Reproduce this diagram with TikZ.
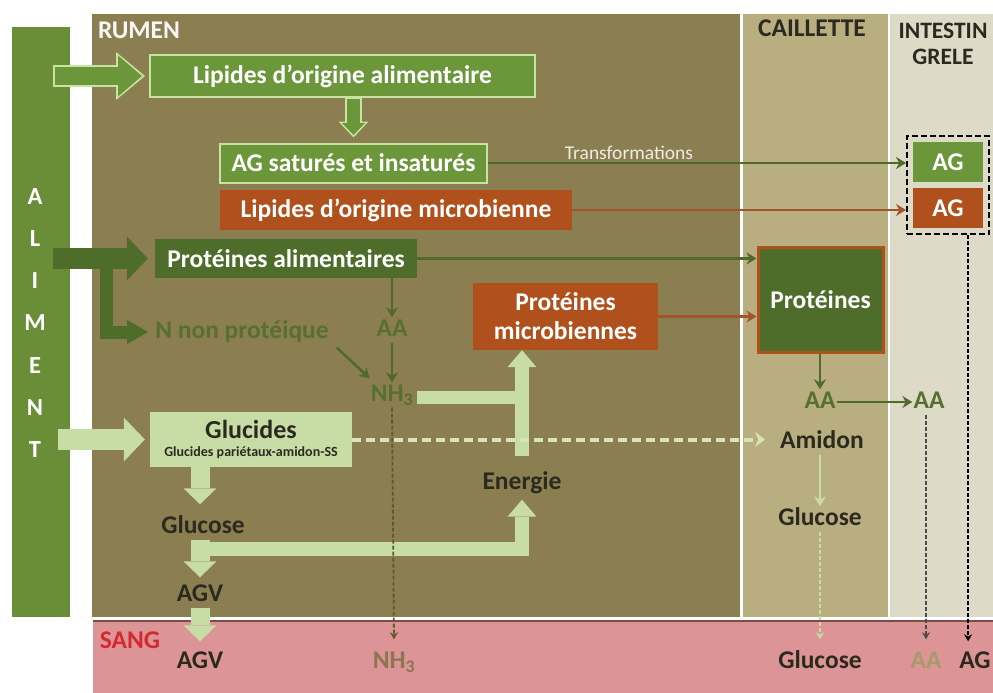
\documentclass[tikz,border=0pt]{standalone}
\usepackage{fontspec}
\setmainfont{Carlito}
\usepackage{xcolor}
\usetikzlibrary{positioning,arrows.meta,fit}

\definecolor{alimgreen}{HTML}{6A8E38}
\definecolor{rumenbg}{HTML}{8B7E50}
\definecolor{caillbg}{HTML}{B8AE80}
\definecolor{intbg}{HTML}{DEDAC8}
\definecolor{sangbg}{HTML}{DC9497}
\definecolor{sangline}{HTML}{7A4E48}
\definecolor{boxgreen}{HTML}{6B963A}
\definecolor{rimgreen}{HTML}{C8E4A0}
\definecolor{rust}{HTML}{B0501C}
\definecolor{rustline}{HTML}{A0552A}
\definecolor{darkgreen}{HTML}{4E6C2A}
\definecolor{arrowgreen}{HTML}{4F6A2C}
\definecolor{palegreen}{HTML}{C8DDA5}
\definecolor{dashgreen}{HTML}{D5E5B8}
\definecolor{leafgreen}{HTML}{58702F}
\definecolor{sangred}{HTML}{D42A2E}
\definecolor{inkdark}{HTML}{2A2A1E}
\definecolor{nhbrown}{HTML}{8C7650}
\definecolor{aatan}{HTML}{A89A6A}
\definecolor{dotolive}{HTML}{5E5A2C}

\begin{document}
\begin{tikzpicture}[x=1pt,y=-1pt,font=\fontsize{25.5}{29}\selectfont\bfseries]
  \tikzstyle{box}=[rectangle,inner sep=0pt,text=white,align=center]
  \tikzstyle{greenbox}=[box,fill=boxgreen,draw=rimgreen,line width=2pt]
  \tikzstyle{rustbox}=[box,fill=rust]
  \tikzstyle{txt}=[inner sep=1pt,text height=18pt,text depth=5pt]
  \tikzstyle{flow}=[line width=2.5pt,-{Stealth[width=12pt,length=10pt]}]
  \tikzstyle{fat}=[line width=21pt,-{Triangle[width=44pt,length=21pt,line width=0pt]}]
  \tikzstyle{branch}=[line width=13pt,-{Triangle[width=24pt,length=21pt,line width=0pt]}]
  \tikzstyle{mid}=[line width=19pt,-{Triangle[width=33pt,length=16pt,line width=0pt]}]
  \tikzstyle{slim}=[line width=14pt,-{Triangle[width=29pt,length=17pt,line width=0pt]}]
  \tikzstyle{rimout}=[rimgreen,line width=22pt,-{Triangle[width=48pt,length=29pt,line width=0pt]}]
  \tikzstyle{rimin}=[boxgreen,line width=18pt,shorten >=3pt,shorten <=2pt,-{Triangle[width=41pt,length=24pt,line width=0pt]}]
  \tikzstyle{dropline}=[line width=1.8pt,dash pattern=on 4pt off 2pt,-{Stealth[width=8pt,length=7pt]}]

  \useasboundingbox (0,0) rectangle (993,693);

  % zones
  \fill[rumenbg] (92,14) rectangle (740,617);
  \fill[caillbg] (743,14) rectangle (888,617);
  \fill[intbg] (890,14) rectangle (1000,617);
  \fill[sangbg] (93,621) rectangle (1000,700);
  \draw[sangline,line width=2pt] (93,621) -- (1000,621);

  \node[fill=alimgreen,minimum width=58pt,minimum height=590pt,inner sep=0pt] (alim) at (41,322) {};
  \node[text=white,align=center,font=\fontsize{24.5}{42.3}\selectfont\bfseries] (alimtxt) at (35,323) {A\\L\\I\\M\\E\\N\\T};

  \node[txt,text=white!94!rumenbg] (rumen) at (139,32) {RUMEN};
  \node[txt,text=inkdark] (caill) at (812,30) {CAILLETTE};
  \node[text=inkdark,align=center,font=\fontsize{23.5}{26}\selectfont\bfseries] (intest) at (943,44) {INTESTIN\\GRELE};
  \node[txt,text=sangred] (sang) at (130,642) {SANG};

  % rumen
  \node[greenbox,minimum width=385pt,minimum height=42pt] (lipal) at (342.5,76) {Lipides d’origine alimentaire};
  \node[greenbox,minimum width=267pt,minimum height=39pt] (agsat) at (353.5,163) {AG saturés et insaturés};
  \node[rustbox,minimum width=352pt,minimum height=40pt] (lipmic) at (396,210) {Lipides  d’origine microbienne};
  \node[box,fill=darkgreen,minimum width=262pt,minimum height=39pt] (protal) at (286,258.5) {Protéines alimentaires};
  \node[rustbox,minimum width=185pt,minimum height=67pt,font=\fontsize{25.5}{29}\selectfont\bfseries] (protmic) at (565.5,316.5) {Protéines\\microbiennes};
  \node[box,fill=palegreen,text=inkdark,minimum width=202pt,minimum height=55pt,font=\fontsize{26}{18}\selectfont\bfseries] (glucides) at (251,439.5) {Glucides\\{\fontsize{14}{14}\selectfont Glucides pariétaux-amidon-SS}};
  \node[txt,text=leafgreen] (nnp) at (242,332) {N non protéique};
  \node[txt,text=leafgreen] (aa1) at (392,330) {AA};
  \node[txt,text=leafgreen] (nh3) at (392,395) {NH\textsubscript{3}};
  \node[txt,text=inkdark] (energie) at (522,483) {Energie};
  \node[txt,text=inkdark] (glucose1) at (203,527) {Glucose};
  \node[txt,text=inkdark] (agv1) at (200,595) {AGV};
  \node[inner sep=1pt,text=white!85!rumenbg,font=\fontsize{19.5}{22}\selectfont] (transf) at (629,153) {Transformations};

  % caillette et intestin
  \node[box,fill=darkgreen,draw=rust,line width=3pt,minimum width=125pt,minimum height=105pt] (prot) at (820.5,299.5) {Protéines};
  \node[txt,text=leafgreen] (aa2) at (820,402) {AA};
  \node[txt,text=leafgreen] (aa3) at (929,402) {AA};
  \node[txt,text=inkdark] (amidon) at (822,442) {Amidon};
  \node[txt,text=inkdark] (glucose2) at (820,519) {Glucose};
  \node[box,fill=boxgreen,minimum width=70pt,minimum height=40pt] (agg) at (948,162) {AG};
  \node[rustbox,minimum width=70pt,minimum height=40pt] (ago) at (948,208) {AG};
  \node[draw=black,line width=1.6pt,dash pattern=on 6pt off 3pt,fit=(agg)(ago),inner sep=6pt] (agfit) {};

  % sang
  \node[txt,text=inkdark] (agv2) at (200,662) {AGV};
  \node[txt,text=nhbrown] (nh3s) at (394,662) {NH\textsubscript{3}};
  \node[txt,text=inkdark] (glucose3) at (820,662) {Glucose};
  \node[txt,text=aatan] (aa4) at (926,662) {AA};
  \node[txt,text=inkdark] (ag4) at (975,662) {AG};

  % grosses fleches
  \draw[rimout] ([xshift=-17pt]alim.east |- lipal.west) -- ([xshift=-4pt]lipal.west);
  \draw[rimin] ([xshift=-17pt]alim.east |- lipal.west) -- ([xshift=-4pt]lipal.west);
  \draw[rimgreen,line width=17pt,-{Triangle[width=30pt,length=16pt,line width=0pt]}] (agsat.north |- lipal.south) -- ([yshift=5pt]agsat.north);
  \draw[boxgreen,line width=13pt,shorten >=2.5pt,shorten <=1pt,-{Triangle[width=23pt,length=12pt,line width=0pt]}] (agsat.north |- lipal.south) -- ([yshift=5pt]agsat.north);
  \draw[fat,darkgreen] ([xshift=-17pt]alim.east |- protal.west) -- ([xshift=-7pt]protal.west);
  \draw[branch,darkgreen] ([xshift=36pt]alim.east |- protal.west) |- ([xshift=-6pt]nnp.west);
  \draw[fat,palegreen] ([xshift=-12pt]alim.east |- glucides.west) -- ([xshift=-5pt]glucides.west);
  \draw[mid,palegreen] (glucides.south -| agv1) -- ([yshift=10pt]glucose1.north -| agv1);
  \draw[mid,palegreen] (glucose1.south -| agv1) -- ([yshift=5pt]agv1.north);
  \draw[slim,palegreen] ([yshift=-9.5pt]glucose1.south -| agv1) -| ([yshift=-4pt]energie.south);
  \draw[mid,palegreen] (agv1.south) -- ([yshift=8pt]agv2.north);
  \draw[palegreen,line width=13pt] ([xshift=3pt,yshift=-2pt]nh3.east) -- ([yshift=-2pt]nh3.east -| energie.north);
  \draw[slim,palegreen] ([yshift=14pt]energie.north) -- (energie.north |- protmic.south);

  % fleches fines
  \draw[dashgreen,line width=4pt,dash pattern=on 9pt off 5pt,-{Stealth[width=15pt,length=10pt]}] (glucides.east) -- ([xshift=-14pt]amidon.west |- glucides.east);
  \draw[flow,arrowgreen] (agsat.east) -- (agsat.east -| agfit.west);
  \draw[flow,rustline] (lipmic.east) -- (lipmic.east -| agfit.west);
  \draw[flow,arrowgreen] (protal.east) -- (protal.east -| prot.west);
  \draw[flow,rustline] (protmic.east) -- (protmic.east -| prot.west);
  \draw[flow,arrowgreen] (protal.south -| aa1) -- (aa1.north);
  \draw[flow,arrowgreen] (aa1.south) -- (nh3.north);
  \draw[flow,arrowgreen] ([xshift=7pt,yshift=-3pt]nnp.south east) -- ([yshift=4pt]nh3.north west);
  \draw[flow,arrowgreen] (prot.south -| aa2) -- (aa2.north);
  \draw[flow,arrowgreen] (aa2.east) -- (aa3.west);
  \draw[flow,palegreen,line width=2pt] (glucose2 |- amidon.south) -- (glucose2.north);
  \draw[dropline,palegreen] (glucose2.south) -- ([yshift=10pt]glucose3.north);
  \draw[dropline,dotolive] (nh3.south) -- ([yshift=10pt]nh3s.north);
  \draw[dropline,black!70] (aa4 |- aa3.south) -- ([yshift=10pt]aa4.north);
  \draw[dropline,black] ([xshift=10pt]ag4.north west |- agfit.south) -- ([xshift=10pt,yshift=8pt]ag4.north west);

\end{tikzpicture}
\end{document}
